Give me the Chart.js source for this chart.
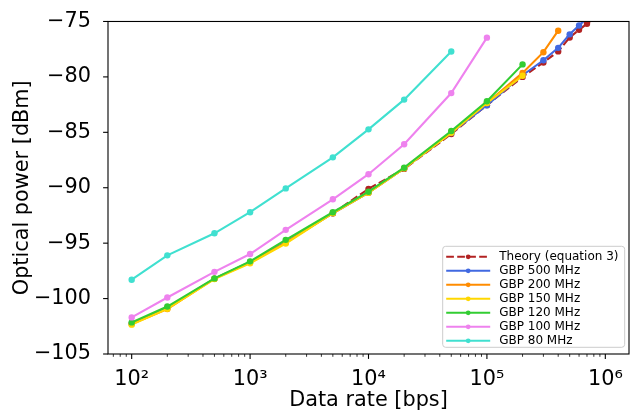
<!DOCTYPE html>
<html>
<head>
<meta charset="utf-8">
<script src="https://cdn.jsdelivr.net/npm/chart.js@4.4.1/dist/chart.umd.min.js"></script>
<style>
    html, body { margin: 0; padding: 0; background: #fff; }
    #wrap { width: 633px; height: 412px; }
</style>
</head>
<body>
<div id="wrap"><canvas id="chart" width="633" height="412"></canvas></div>
<script>
// =============================
// DATA
// =============================
const THEORY_X = [5000, 10000, 20000, 50000, 100000, 200000, 300000, 400000, 500000, 600000, 700000, 800000, 1000000];
const THEORY_Y = [-92.3, -90.1, -88.3, -85.15, -82.55, -80.0, -78.7, -77.7, -76.45, -75.75, -75.2, -74.7, -73.8];

const GBP500_X = [100, 200, 500, 1000, 2000, 5000, 10000, 20000, 50000, 100000, 200000, 300000, 400000, 500000, 600000, 700000];
const GBP500_Y = [-102.25, -100.85, -98.2, -96.7, -94.9, -92.3, -90.45, -88.25, -85.06, -82.56, -79.85, -78.5, -77.38, -76.16, -75.36, -74.7];

const GBP200_X = [100, 200, 500, 1000, 2000, 5000, 10000, 20000, 50000, 100000, 200000, 300000, 400000];
const GBP200_Y = [-102.3, -100.95, -98.2, -96.75, -94.95, -92.3, -90.45, -88.25, -85.0, -82.35, -79.64, -77.77, -75.83];

const GBP150_X = [100, 200, 500, 1000, 2000, 5000, 10000, 20000, 50000, 100000, 200000];
const GBP150_Y = [-102.35, -100.92, -98.24, -96.81, -95.03, -92.29, -90.45, -88.25, -85.05, -82.35, -79.9];

const GBP120_X = [100, 200, 500, 1000, 2000, 5000, 10000, 20000, 50000, 100000, 200000];
const GBP120_Y = [-102.15, -100.72, -98.18, -96.64, -94.7, -92.21, -90.36, -88.19, -84.88, -82.2, -78.87];

const GBP100_X = [100, 200, 500, 1000, 2000, 5000, 10000, 20000, 50000, 100000];
const GBP100_Y = [-101.7, -99.9, -97.59, -95.98, -93.8, -91.04, -88.78, -86.07, -81.46, -76.46];

const GBP80_X = [100, 200, 500, 1000, 2000, 5000, 10000, 20000, 50000];
const GBP80_Y = [-98.3, -96.1, -94.11, -92.21, -90.06, -87.26, -84.73, -82.05, -77.71];

const X_TICKS = [100, 1000, 10000, 100000, 1000000];
const X_TICK_LABELS = ["10²", "10³", "10⁴", "10⁵", "10⁶"];
const Y_TICKS = [-105, -100, -95, -90, -85, -80, -75];

const FONT = "'DejaVu Sans', sans-serif";

// =============================
// HELPERS
// =============================
function points(xs, ys) {
    return xs.map((x, i) => ({x, y: ys[i]}));
}

function series(label, xs, ys, color, order, dash) {
    return {
        label,
        data: points(xs, ys),
        borderColor: color,
        backgroundColor: color,
        borderWidth: 2.1,
        borderDash: dash || [],
        pointRadius: 3.2,
        pointBorderWidth: 0,
        pointBackgroundColor: color,
        tension: 0,
        order
    };
}

// =============================
// FRAME + TICKS + LEGEND
// =============================
const framePlugin = {
    id: "frame",
    afterDraw(chart) {
        const {ctx, chartArea: a, scales} = chart;
        ctx.save();
        ctx.strokeStyle = "#000";
        ctx.lineWidth = 1.1;
        ctx.strokeRect(a.left, a.top, a.right - a.left, a.bottom - a.top);

        // x ticks, major and minor
        const xs = scales.x;
        for (let e = 1; e <= 6; e++) {
            for (let k = 1; k <= 9; k++) {
                const v = k * Math.pow(10, e);
                if (v < xs.min || v > xs.max) continue;
                const px = xs.getPixelForValue(v);
                const len = k === 1 ? 4.9 : 2.8;
                ctx.lineWidth = k === 1 ? 1.1 : 0.8;
                ctx.beginPath();
                ctx.moveTo(px, a.bottom);
                ctx.lineTo(px, a.bottom + len);
                ctx.stroke();
            }
        }

        // y ticks
        ctx.lineWidth = 1.1;
        Y_TICKS.forEach(v => {
            const py = scales.y.getPixelForValue(v);
            ctx.beginPath();
            ctx.moveTo(a.left, py);
            ctx.lineTo(a.left - 4.9, py);
            ctx.stroke();
        });

        // legend box, lower right
        const sets = chart.data.datasets;
        const rowH = 14;
        const boxR = a.right - 4.3;
        const boxB = a.bottom - 6.7;
        const boxW = 182;
        const boxH = rowH * (sets.length - 1) + 17;
        const boxL = boxR - boxW;
        const boxT = boxB - boxH;

        ctx.fillStyle = "rgba(255,255,255,0.8)";
        ctx.strokeStyle = "#cccccc";
        ctx.lineWidth = 1;
        ctx.beginPath();
        ctx.roundRect(boxL, boxT, boxW, boxH, 3);
        ctx.fill();
        ctx.stroke();

        ctx.font = `12px ${FONT}`;
        ctx.textBaseline = "middle";
        ctx.textAlign = "left";
        sets.forEach((ds, i) => {
            const y = boxT + 10.5 + i * rowH;
            ctx.strokeStyle = ds.borderColor;
            ctx.lineWidth = ds.borderWidth;
            ctx.setLineDash(ds.borderDash);
            ctx.beginPath();
            ctx.moveTo(boxL + 3.5, y);
            ctx.lineTo(boxL + 47.5, y);
            ctx.stroke();
            ctx.setLineDash([]);
            ctx.fillStyle = ds.borderColor;
            ctx.beginPath();
            ctx.arc(boxL + 25.5, y, 2.4, 0, Math.PI * 2);
            ctx.fill();
            ctx.fillStyle = "#000";
            ctx.fillText(ds.label, boxL + 56.5, y + 0.5);
        });
        ctx.restore();
    }
};

// =============================
// CHART
// =============================
const ctx = document.getElementById("chart").getContext("2d");

new Chart(ctx, {
    type: "line",
    data: {
        datasets: [
            series("Theory (equation 3)", THEORY_X, THEORY_Y, "#b22222", 7, [7.7, 3.3]),
            series("GBP 500 MHz", GBP500_X, GBP500_Y, "#4169e1", 6),
            series("GBP 200 MHz", GBP200_X, GBP200_Y, "#ff8c00", 5),
            series("GBP 150 MHz", GBP150_X, GBP150_Y, "#ffd700", 4),
            series("GBP 120 MHz", GBP120_X, GBP120_Y, "#32cd32", 3),
            series("GBP 100 MHz", GBP100_X, GBP100_Y, "#ee82ee", 2),
            series("GBP 80 MHz", GBP80_X, GBP80_Y, "#40e0d0", 1)
        ]
    },
    options: {
        responsive: false,
        devicePixelRatio: 1,
        animation: false,
        layout: {
            padding: {top: 18, right: 1, left: 0, bottom: 0}
        },
        plugins: {
            legend: {display: false},
            tooltip: {enabled: false}
        },
        scales: {
            x: {
                type: "logarithmic",
                min: Math.pow(10, 1.8),
                max: Math.pow(10, 6.2),
                afterBuildTicks: s => { s.ticks = X_TICKS.map(v => ({value: v})); },
                afterFit: s => { s.height = 58; },
                grid: {display: false},
                border: {display: false},
                ticks: {
                    autoSkip: false,
                    maxRotation: 0,
                    padding: 5,
                    color: "#000",
                    font: {family: FONT, size: 20.8},
                    callback: v => X_TICK_LABELS[X_TICKS.indexOf(v)] ?? ""
                },
                title: {
                    display: true,
                    text: "Data rate [bps]",
                    color: "#000",
                    font: {family: FONT, size: 20.8},
                    padding: {top: 0, bottom: -1.5}
                }
            },
            y: {
                min: -105,
                max: -75,
                afterBuildTicks: s => { s.ticks = Y_TICKS.map(v => ({value: v})); },
                afterFit: s => { s.width = 108; },
                grid: {display: false},
                border: {display: false},
                ticks: {
                    padding: 9,
                    color: "#000",
                    font: {family: FONT, size: 20.8},
                    callback: v => String(v).replace("-", "\u2212")
                },
                title: {
                    display: true,
                    text: "Optical power [dBm]",
                    color: "#000",
                    font: {family: FONT, size: 20.8},
                    padding: {top: 10, bottom: 0}
                }
            }
        }
    },
    plugins: [framePlugin]
});
</script>
</body>
</html>
